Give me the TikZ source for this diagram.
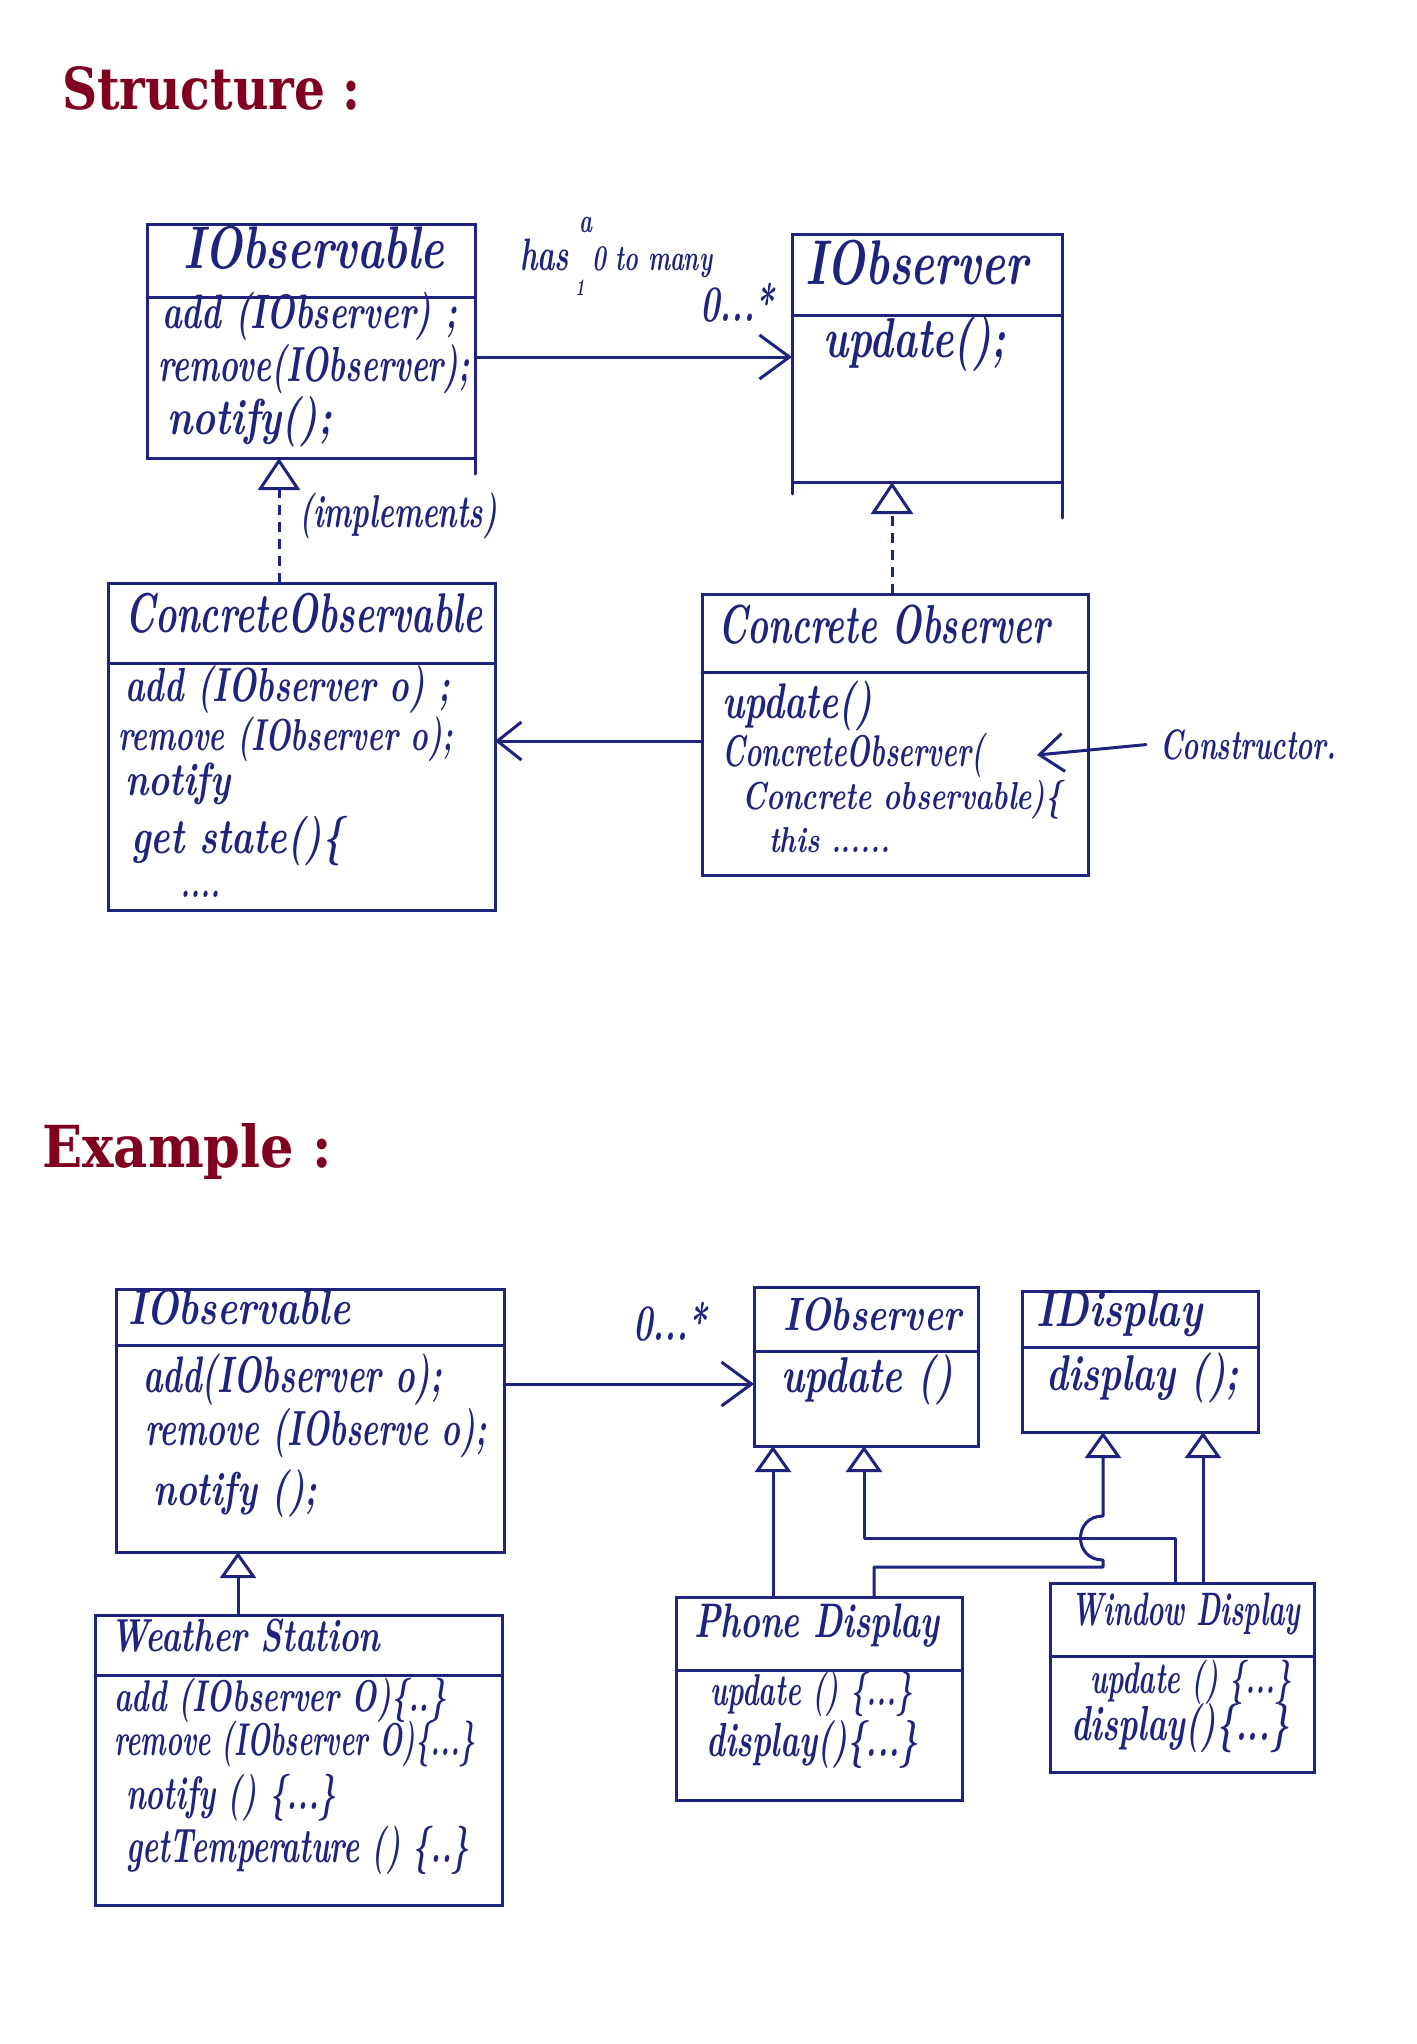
\documentclass[tikz,border=0pt]{standalone}
\usepackage{fontspec}
\usepackage{graphicx}
\usetikzlibrary{arrows.meta}
\newfontfamily\titlefont{DejaVu Serif}
\definecolor{ink}{RGB}{30,35,125}
\definecolor{titlered}{RGB}{128,0,32}
\newcommand\fitw[3][1.55]{\scalebox{1}[#1]{\resizebox{#2pt}{!}{#3}}}
\newcommand\umlbox[6]{%
  \node[box, minimum width={#4-#2}, minimum height={#5-#3}] (#1) at ({(#2+#4)/2},{(#3+#5)/2}) {};
  \draw[ln] (#1.west |- 0,#6) -- (#1.east |- 0,#6);}
\begin{document}
\begin{tikzpicture}[x=1pt,y=-1pt,
  box/.style={draw=ink, line width=3pt, inner sep=0pt, outer sep=0pt},
  ln/.style={draw=ink, line width=3pt, line cap=round, line join=round},
  dl/.style={ln, dash pattern=on 10pt off 7pt, line cap=butt},
  hw/.style={text=ink, font=\fontsize{38}{40}\selectfont\bfseries\itshape, inner sep=0pt, anchor=mid west},
  tri/.style={-{Triangle[open,length=32pt,width=42pt]}},
  trib/.style={-{Triangle[open,length=26pt,width=36pt]}},
  opn/.style={-{Straight Barb[length=30pt,width=44pt]}},
  opns/.style={-{Straight Barb[length=24pt,width=38pt]}},
  ttl/.style={anchor=base west, inner sep=0pt, text=titlered, font=\titlefont\bfseries}]
\useasboundingbox (0,0) rectangle (1416,2044);
\fill[white] (0,0) rectangle (1416,2044);

% titles
\node[ttl] (structure) at (62,110) {\resizebox{298pt}{43pt}{Structure :}};
\node[ttl] (example) at (42,1167) {\resizebox{290pt}{44pt}{Example :}};

% ---------- Structure ----------
\umlbox{iobs}{147}{225}{475}{458}{297}
\umlbox{iobsr}{792}{235}{1062}{482}{315}
\umlbox{cobs}{108}{583}{495}{910}{663}
\umlbox{cobsr}{702}{594}{1088}{875}{672}
\draw[ln] (iobs.south east) -- ++(0,16);
\draw[ln] (iobsr.south east) -- ++(0,36);
\draw[ln] (iobsr.south west) -- ++(0,12);

\node[hw] (t1) at (183,266) {\fitw[1.35]{261}{IObservable}};
\node[hw] (t2) at (162,326) {\fitw[1.45]{295}{add (IObserver) ;}};
\node[hw] (t3) at (158,379) {\fitw[1.55]{312}{remove(IObserver);}};
\node[hw] (t4) at (167,432) {\fitw[1.3]{165}{notify();}};

\node[hw] (t5) at (520,268) {\fitw{49}{has}};
\node[hw] (t6) at (592,268) {\fitw{120}{0 to many}};
\node[hw, anchor=mid] (t7) at (586,230) {\fitw{13}{a}};
\node[hw, anchor=mid] (t8) at (580,293) {\fitw{9}{1}};
\node[hw] (t9) at (700,319) {\fitw{74}{0...*}};

\node[hw] (t10) at (805,282) {\fitw[1.4]{223}{IObserver}};
\node[hw] (t11) at (823,355) {\fitw[1.4]{183}{update();}};

\node[hw] (t12) at (299,525) {\fitw{198}{(implements)}};

\node[hw] (t13) at (125,630) {\fitw{357}{ConcreteObservable}};
\node[hw] (t14) at (125,699) {\fitw[1.45]{325}{add (IObserver o) ;}};
\node[hw] (t15) at (118,748) {\fitw[1.5]{335}{remove (IObserver o);}};
\node[hw] (t16) at (125,793) {\fitw[1.3]{105}{notify}};
\node[hw] (t17) at (131,851) {\fitw[1.35]{212}{get state()\{}};
\node[hw] (t18) at (180,895) {\fitw{40}{....}};

\node[hw] (t19) at (718,641) {\fitw{332}{Concrete Observer}};
\node[hw] (t20) at (722,716) {\fitw[1.4]{150}{update()}};
\node[hw] (t21) at (722,764) {\fitw[1.6]{262}{ConcreteObserver(}};
\node[hw] (t22) at (742,807) {\fitw[1.35]{320}{Concrete observable)\{}};
\node[hw] (t23) at (769,850) {\fitw[1.3]{121}{this ......}};
\node[hw] (ctor) at (1160,757) {\fitw{176}{Constructor.}};
\coordinate (ctortip) at (1037,755);

\draw[ln, opn] (iobs.east |- 0,357) -- (iobsr.west |- 0,357);
\draw[ln, opns] (cobsr.west |- 0,741) -- (cobs.east |- 0,741);
\draw[ln, opns] ([xshift=-14pt]ctor.west) -- (ctortip);
\draw[dl, tri] (cobs.north -| 279,0) -- (iobs.south -| 279,0);
\draw[dl, tri] (cobsr.north -| 892,0) -- (iobsr.south -| 892,0);

% ---------- Example ----------
\umlbox{iobs2}{116}{1289}{504}{1552}{1345}
\umlbox{iobsr2}{754}{1287}{978}{1446}{1351}
\umlbox{idisp}{1022}{1291}{1258}{1432}{1347}
\umlbox{ws}{95}{1615}{502}{1905}{1675}
\umlbox{phone}{676}{1597}{962}{1800}{1670}
\umlbox{win}{1050}{1583}{1314}{1772}{1656}

\node[hw] (e1) at (128,1322) {\fitw[1.3]{222}{IObservable}};
\node[hw] (e2) at (143,1390) {\fitw{299}{add(IObserver o);}};
\node[hw] (e3) at (145,1443) {\fitw{342}{remove (IObserve o);}};
\node[hw] (e4) at (153,1503) {\fitw[1.35]{164}{notify ();}};
\node[hw] (e5) at (633,1338) {\fitw{74}{0...*}};
\node[hw] (e6) at (783,1328) {\fitw[1.3]{178}{IObserver}};
\node[hw] (e7) at (781,1390) {\fitw[1.35]{172}{update ()}};
\node[hw] (e8) at (1036,1324) {\fitw[1.3]{166}{IDisplay}};
\node[hw] (e9) at (1046,1388) {\fitw[1.35]{193}{display ();}};
\node[hw] (e10) at (110,1649) {\fitw[1.4]{270}{Weather Station}};
\node[hw] (e11) at (114,1709) {\fitw[1.5]{332}{add (IObserver O)\{..\}}};
\node[hw] (e12) at (114,1753) {\fitw[1.7]{361}{remove (IObserver O)\{...\}}};
\node[hw] (e13) at (126,1807) {\fitw{210}{notify () \{...\}}};
\node[hw] (e14) at (126,1860) {\fitw[1.6]{343}{getTemperature () \{..\}}};
\node[hw] (e15) at (694,1635) {\fitw[1.45]{245}{Phone Display}};
\node[hw] (e16) at (710,1703) {\fitw[1.6]{202}{update () \{...\}}};
\node[hw] (e17) at (706,1754) {\fitw[1.5]{212}{display()\{...\}}};
\node[hw] (e18) at (1071,1623) {\fitw[1.7]{229}{Window Display}};
\node[hw] (e19) at (1090,1691) {\fitw[1.6]{201}{update () \{...\}}};
\node[hw] (e20) at (1071,1738) {\fitw[1.5]{218}{display()\{...\}}};

\draw[ln, opn] (iobs2.east |- 0,1384) -- (iobsr2.west |- 0,1384);
\draw[ln, trib] (ws.north -| 238,0) -- (iobs2.south -| 238,0);
\draw[ln, trib] (phone.north -| 773,0) -- (iobsr2.south -| 773,0);
\draw[ln, trib] (win.north -| 1175,0) -- (1175,1538) -- (864,1538) -- (iobsr2.south -| 864,0);
\draw[ln, trib] (phone.north -| 874,0) -- (874,1567) -- (1103,1567) -- (1103,1560)
   .. controls (1073,1560) and (1073,1516) .. (1103,1516) -- (idisp.south -| 1103,0);
\draw[ln, trib] (win.north -| 1203,0) -- (idisp.south -| 1203,0);
\end{tikzpicture}
\end{document}
